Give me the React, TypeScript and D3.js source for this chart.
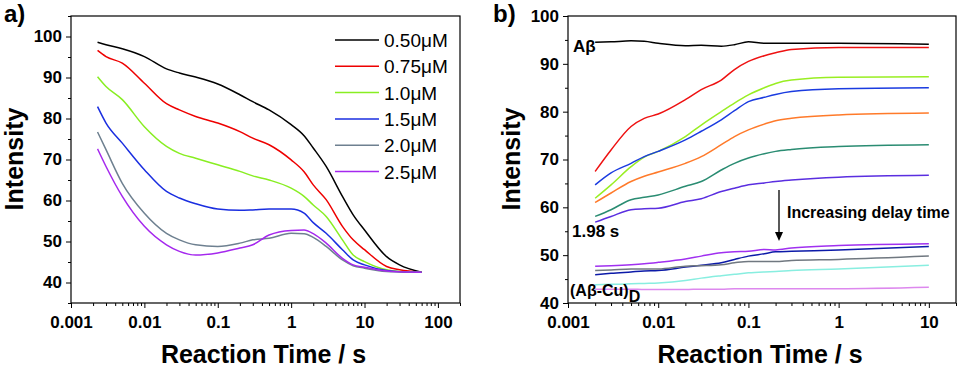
import React, { useEffect, useRef } from "react";
import * as d3 from "d3";

// ---- panel a) data ----
const timesA = [0.0023, 0.003, 0.005, 0.01, 0.02, 0.03, 0.05, 0.1, 0.2, 0.3, 0.5, 1, 1.5, 2, 3, 5, 7, 10, 20, 30, 60];
const seriesA = [
  { name: "0.50\u03bcM", color: "#000000", values: [98.6, 98, 97, 95.1, 92.1, 91.1, 90.1, 88.4, 85.8, 84.1, 82.1, 78.5, 75.8, 72.8, 68.3, 61, 56.5, 52.8, 46.3, 44.3, 42.5] },
  { name: "0.75\u03bcM", color: "#ee0000", values: [96.6, 95.1, 93.5, 88.6, 83.6, 82.1, 80.5, 78.9, 76.8, 75.2, 73.6, 69.9, 67, 63.8, 60.2, 53.7, 50.4, 48, 43.9, 43.1, 42.5] },
  { name: "1.0\u03bcM", color: "#88ee22", values: [90.2, 87.8, 84.6, 78, 73.2, 71.5, 70.3, 68.7, 67.1, 66, 65, 63, 61, 58.9, 56.1, 50.4, 46.7, 45.1, 43.1, 42.7, 42.5] },
  { name: "1.5\u03bcM", color: "#1a2ee0", values: [82.9, 78.9, 74, 67.5, 62.2, 60.6, 59.2, 57.9, 57.6, 57.7, 57.9, 57.9, 56.9, 54.6, 52, 48, 45.5, 44.3, 42.9, 42.6, 42.5] },
  { name: "2.0\u03bcM", color: "#6e8090", values: [76.7, 72.4, 64.2, 56.9, 52, 50.4, 49.2, 48.8, 49.6, 50.4, 50.8, 52, 51.9, 51, 48.8, 45.5, 44.1, 43.5, 42.7, 42.6, 42.5] },
  { name: "2.5\u03bcM", color: "#a528ee", values: [72.6, 68.3, 61, 53.7, 49.2, 47.6, 46.7, 47.2, 48.4, 49.2, 51.6, 52.7, 52.8, 51.9, 49.6, 45.9, 44.3, 43.7, 42.8, 42.6, 42.5] },
];
const xTicksA = [0.001, 0.01, 0.1, 1, 10, 100];
const yTicksA = [40, 50, 60, 70, 80, 90, 100];

// ---- panel b) data ----
const timesB = [0.002, 0.003, 0.005, 0.007, 0.01, 0.02, 0.03, 0.05, 0.07, 0.1, 0.15, 0.2, 0.3, 1, 10];
const seriesB = [
  { color: "#000000", values: [94.5, 94.6, 94.8, 94.7, 94.3, 93.8, 93.9, 93.7, 94.0, 94.6, 94.3, 94.3, 94.3, 94.3, 94.1] },
  { color: "#ee1111", values: [67.5, 72, 76.9, 78.6, 79.5, 82.5, 84.6, 86.6, 88.8, 90.5, 91.7, 92.3, 93, 93.4, 93.4] },
  { color: "#99ee22", values: [61.9, 64.7, 68.5, 70.5, 71.7, 74.8, 77.2, 80, 81.8, 83.5, 85, 85.9, 86.6, 87.2, 87.3] },
  { color: "#1a3be0", values: [64.7, 67.2, 69.2, 70.6, 71.7, 74.1, 75.9, 78.3, 80.2, 82.1, 83, 83.6, 84.2, 84.8, 85] },
  { color: "#ff7a2a", values: [61, 63, 65.4, 66.5, 67.4, 69.2, 70.6, 73.1, 74.8, 76.2, 77.4, 78.1, 78.6, 79.3, 79.7] },
  { color: "#2a8c72", values: [58.1, 59.5, 61.6, 62.1, 62.6, 64.4, 65.4, 67.8, 69.2, 70.3, 71.2, 71.7, 72.1, 72.7, 73.1] },
  { color: "#5a2ee0", values: [56.9, 58.1, 59.5, 59.7, 59.8, 61.2, 61.8, 63.3, 64, 64.7, 65.1, 65.4, 65.7, 66.3, 66.7] },
  { color: "#a030f0", values: [47.7, 47.8, 48, 48.2, 48.5, 49.2, 49.8, 50.5, 50.7, 50.8, 51.2, 51.1, 51.5, 52, 52.4] },
  { color: "#0c1aa8", values: [45.9, 46.2, 46.5, 46.7, 46.8, 47.5, 47.9, 48.4, 49.1, 49.8, 50.3, 50.7, 50.8, 51.1, 51.8] },
  { color: "#707880", values: [46.8, 46.9, 47.1, 47.1, 47.1, 47.7, 47.8, 48, 48.4, 48.7, 48.7, 48.7, 48.9, 49.1, 49.8] },
  { color: "#88eee0", values: [43.8, 43.9, 44, 44.1, 44.2, 44.7, 45.2, 45.7, 46, 46.3, 46.5, 46.6, 46.8, 47.1, 47.9] },
  { color: "#dd88ee", values: [42.9, 42.9, 42.9, 42.8, 42.8, 42.8, 42.9, 42.9, 43, 43, 43, 43, 43, 43, 43.3] },
];
const xTicksB = [0.001, 0.01, 0.1, 1, 10];
const yTicksB = [40, 50, 60, 70, 80, 90, 100];

const FONT = "'Liberation Sans', Arial, sans-serif";

const minorLogTicks = (lo: number, hi: number) => {
  const out: number[] = [];
  for (let d = lo; d < hi; d *= 10) {
    for (let k = 2; k <= 9; k++) if (d * k <= hi * 1.0001) out.push(d * k);
  }
  return out;
};

const drawPanel = (svg: any, opts: any) => {
  const { left, right, top, bottom, xDomain, yDomain, xTicks, yTicks, yMinor, times, series } = opts;
  const x = d3.scaleLog().domain(xDomain).range([left, right]);
  const y = d3.scaleLinear().domain(yDomain).range([bottom, top]);
  const fmt = (d: number) => (d < 1 ? String(d) : d3.format("d")(d));

  // major x ticks
  const gx = svg
    .append("g")
    .attr("transform", `translate(0,${bottom})`)
    .call(d3.axisBottom(x).tickValues(xTicks).tickFormat(fmt).tickSize(5));
  gx.select(".domain").remove();
  gx.selectAll("line").attr("stroke", "#000");
  gx.selectAll("text")
    .attr("dy", null)
    .attr("y", 25)
    .style("font-family", FONT)
    .style("font-size", "17px")
    .style("font-weight", "bold")
    .attr("fill", "#000");

  // minor x ticks
  const gxm = svg
    .append("g")
    .attr("transform", `translate(0,${bottom})`)
    .call(d3.axisBottom(x).tickValues(minorLogTicks(xDomain[0], xDomain[1])).tickFormat(() => "").tickSize(3));
  gxm.select(".domain").remove();

  // y ticks
  const gy = svg
    .append("g")
    .attr("transform", `translate(${left},0)`)
    .call(d3.axisLeft(y).tickValues(yTicks).tickSize(5).tickPadding(4));
  gy.select(".domain").remove();
  gy.selectAll("text")
    .style("font-family", FONT)
    .style("font-size", "17px")
    .style("font-weight", "bold")
    .attr("fill", "#000");

  const gym = svg
    .append("g")
    .attr("transform", `translate(${left},0)`)
    .call(d3.axisLeft(y).tickValues(yMinor).tickFormat(() => "").tickSize(3));
  gym.select(".domain").remove();

  // frame
  svg
    .append("rect")
    .attr("x", left)
    .attr("y", top)
    .attr("width", right - left)
    .attr("height", bottom - top)
    .attr("fill", "none")
    .attr("stroke", "#000")
    .attr("stroke-width", 1.2);

  // curves
  const line = d3
    .line<number>()
    .x((_, i) => x(times[i]))
    .y((d) => y(d))
    .curve(d3.curveMonotoneX);

  series.forEach((s: any) => {
    svg
      .append("path")
      .attr("d", line(s.values))
      .attr("fill", "none")
      .attr("stroke", s.color)
      .attr("stroke-width", 1.5);
  });

  // x axis title
  svg
    .append("text")
    .attr("x", (left + right) / 2 - 2)
    .attr("y", 363)
    .attr("text-anchor", "middle")
    .style("font-family", FONT)
    .style("font-size", "25px")
    .style("font-weight", "bold")
    .text("Reaction Time / s");

  return { x, y };
};

const App = () => {
  const svgRef = useRef<SVGSVGElement>(null);

  useEffect(() => {
    const svg = d3.select(svgRef.current);
    svg.selectAll("*").remove();

    // ---- panel a ----
    drawPanel(svg, {
      left: 71,
      right: 460,
      top: 16,
      bottom: 303,
      xDomain: [0.001, 200],
      yDomain: [35, 105],
      xTicks: xTicksA,
      yTicks: yTicksA,
      yMinor: [35, 45, 55, 65, 75, 85, 95, 105],
      times: timesA,
      series: seriesA,
    });

    svg
      .append("text")
      .attr("transform", "translate(23,159) rotate(-90)")
      .attr("text-anchor", "middle")
      .style("font-family", FONT)
      .style("font-size", "25px")
      .style("font-weight", "bold")
      .text("Intensity");

    svg
      .append("text")
      .attr("x", 4)
      .attr("y", 22)
      .style("font-family", FONT)
      .style("font-size", "24px")
      .style("font-weight", "bold")
      .text("a)");

    // legend
    const legend = svg.append("g");
    seriesA.forEach((s, i) => {
      const cy = 40 + i * 26.3;
      legend
        .append("line")
        .attr("x1", 335)
        .attr("x2", 379)
        .attr("y1", cy)
        .attr("y2", cy)
        .attr("stroke", s.color)
        .attr("stroke-width", 1.5);
      legend
        .append("text")
        .attr("x", 384)
        .attr("y", cy + 7)
        .style("font-family", FONT)
        .style("font-size", "19px")
        .text(s.name);
    });

    // ---- panel b ----
    drawPanel(svg, {
      left: 568,
      right: 956,
      top: 16,
      bottom: 303,
      xDomain: [0.001, 20],
      yDomain: [40, 100],
      xTicks: xTicksB,
      yTicks: yTicksB,
      yMinor: [45, 55, 65, 75, 85, 95],
      times: timesB,
      series: seriesB,
    });

    svg
      .append("text")
      .attr("transform", "translate(520,159) rotate(-90)")
      .attr("text-anchor", "middle")
      .style("font-family", FONT)
      .style("font-size", "25px")
      .style("font-weight", "bold")
      .text("Intensity");

    svg
      .append("text")
      .attr("x", 493)
      .attr("y", 22)
      .style("font-family", FONT)
      .style("font-size", "24px")
      .style("font-weight", "bold")
      .text("b)");

    const note = (x: number, yy: number, size: number, t: string) =>
      svg
        .append("text")
        .attr("x", x)
        .attr("y", yy)
        .style("font-family", FONT)
        .style("font-size", `${size}px`)
        .style("font-weight", "bold")
        .text(t);

    note(573, 52, 17, "A\u03b2");
    note(572, 237, 17, "1.98 s");
    note(787, 218, 16, "Increasing delay time");
    const cu = note(570, 296, 16, "(A\u03b2-Cu)");
    cu.append("tspan").attr("dy", 6).text("D");

    // arrow
    svg
      .append("line")
      .attr("x1", 779)
      .attr("x2", 779)
      .attr("y1", 190)
      .attr("y2", 234)
      .attr("stroke", "#000")
      .attr("stroke-width", 1.3);
    svg
      .append("path")
      .attr("d", "M775,232 L783,232 L779,241 Z")
      .attr("fill", "#000");
  }, []);

  return (
    <div style={{ position: "absolute", left: 0, top: 0 }}>
      <svg ref={svgRef} width={960} height={367} style={{ display: "block", background: "#fff" }}></svg>
    </div>
  );
};

export default App;
